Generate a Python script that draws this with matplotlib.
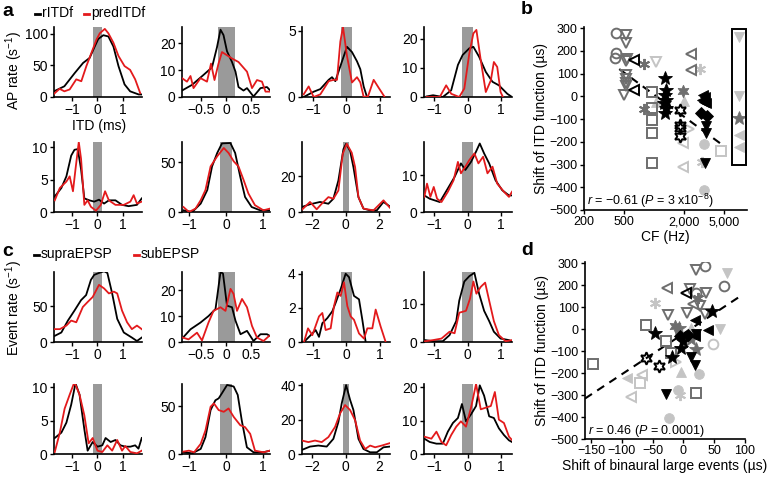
import numpy as np
import matplotlib
matplotlib.use('Agg')
import matplotlib.pyplot as plt
from matplotlib.lines import Line2D
from matplotlib.patches import Rectangle
from matplotlib.ticker import FixedLocator, NullLocator

plt.rcParams['font.family'] = ['Liberation Sans', 'DejaVu Sans']
plt.rcParams['mathtext.fontset'] = 'custom'
plt.rcParams['mathtext.rm'] = 'Liberation Sans'
plt.rcParams['mathtext.it'] = 'Liberation Sans:italic'
plt.rcParams['mathtext.bf'] = 'Liberation Sans:bold'
plt.rcParams['axes.unicode_minus'] = True

# ---------------- data: panel a (rITDf black, predITDf red) ----------------
a1_bx = [-1.72,-1.31,-0.9,-0.57,-0.44,-0.31,-0.11,0.03,0.23,0.43,0.63,0.83,1.07,1.29,1.63,1.76]
a1_by = [9,17,38,54,58,62,80,92,98,96,80,49,20,9,4,4]
a1_rx = [-1.72,-1.5,-1.31,-1.1,-0.84,-0.64,-0.44,-0.24,-0.04,0.09,0.29,0.43,0.63,0.83,1.07,1.29,1.49,1.69]
a1_ry = [5,13,9,12,28,25,49,70,91,101,108,101,86,65,49,43,28,6]

a2_bx = [-0.88,-0.68,-0.45,-0.28,-0.18,-0.11,-0.05,0.02,0.12,0.19,0.25,0.35,0.42,0.55,0.69,0.82,0.88]
a2_by = [2.4,4.5,8.2,11,18.5,25,23,17,13,9.4,3.7,2.4,3.3,0.2,3.3,3.7,2.5]
a2_rx = [-0.88,-0.78,-0.71,-0.65,-0.51,-0.38,-0.3,-0.23,-0.15,-0.08,0.02,0.12,0.25,0.42,0.52,0.62,0.72,0.79,0.88]
a2_ry = [7,5.7,7.8,3.3,7,5.7,12.4,6.3,12.4,16.7,15.5,14.3,13,9.4,3.3,6.3,5.7,2,2]

a3_bx = [-1.28,-0.98,-0.78,-0.53,-0.43,-0.33,-0.13,0.02,0.17,0.32,0.42,0.52,0.62,1.15]
a3_by = [0,0.4,0.6,1.3,1.5,1.2,2.7,3.8,3.4,2.7,2.1,0.8,0,0]
a3_rx = [-1.28,-1.13,-0.98,-0.78,-0.53,-0.38,-0.28,-0.18,-0.1,0.02,0.17,0.32,0.42,0.52,0.65,0.82,0.97,1.15]
a3_ry = [0.2,0.8,0,0.2,1.2,1.3,1.3,4.2,5.3,3.1,1.1,1.5,1.1,0,0.05,1.3,0.7,0]

a4_bx = [-1.22,-1.03,-0.74,-0.49,-0.29,-0.15,0.05,0.17,0.34,0.54,0.74,0.93,1.18,1.32]
a4_by = [0.2,0.6,0,2.3,11,14.4,16.7,17.2,13.8,8.6,5.2,4,1.1,0]
a4_rx = [-1.22,-0.83,-0.64,-0.49,-0.25,-0.1,0.05,0.17,0.26,0.39,0.54,0.69,0.78,0.88,0.98,1.05]
a4_ry = [0,0,4,1.1,0,2.9,15,21.8,23,12.6,1.7,5.7,12,10.3,1.7,0]

a5_bx = [-1.69,-1.43,-1.23,-1.04,-0.91,-0.78,-0.65,-0.52,-0.32,-0.13,0.06,0.26,0.45,0.71,0.97,1.23,1.56,1.75]
a5_by = [2.4,3.7,5.5,8.7,9.6,9.7,6.6,2.1,1.8,1.6,1.9,1.3,1.8,1.8,1.1,0.9,1.1,2.1]
a5_rx = [-1.69,-1.49,-1.23,-1.1,-0.97,-0.87,-0.74,-0.65,-0.52,-0.39,-0.26,-0.06,0.13,0.3,0.45,0.71,1.04,1.3,1.43,1.56,1.75]
a5_ry = [1.8,3.7,4.7,5.5,3.2,6.6,10.8,8.2,1.1,1.8,0.8,0.2,1.1,3.2,1.8,1.1,1.1,1.6,2.6,1.3,1.6]

a6_bx = [-1.16,-0.92,-0.69,-0.51,-0.38,-0.24,-0.11,0.12,0.25,0.39,0.52,0.7,0.93,1.2]
a6_by = [1.7,0,8.4,22,45.6,59,68.6,69,59,35,15,5,1.7,1.7]
a6_rx = [-1.16,-1.01,-0.83,-0.69,-0.56,-0.42,-0.24,-0.06,0.07,0.21,0.34,0.48,0.61,0.79,1.02,1.2]
a6_ry = [5,0,3.4,11.8,22,45.6,55.7,64,59,50.7,45.6,32,18.6,6.8,1.7,3.4]

a7_bx = [-2.62,-2.14,-1.54,-1.04,-0.74,-0.44,-0.14,0.02,0.26,0.46,0.76,1.06,1.46,1.86,2.26,2.64]
a7_by = [2.8,4.3,5.6,4.6,7.4,17.6,35,38,34,25,8.3,1.9,0.9,0.9,5.6,3.1]
a7_rx = [-2.62,-2.14,-1.74,-1.44,-1.04,-0.74,-0.44,-0.18,0.06,0.36,0.56,0.76,1.06,1.66,2.26,2.64]
a7_ry = [1.3,5.6,1.5,4.6,8.3,7.4,12,32.4,38,33,25,8.3,1.9,0.9,6.5,2.4]

a8_bx = [-1.29,-1.13,-0.83,-0.59,-0.39,-0.2,-0.07,0.1,0.25,0.36,0.49,0.64,0.83,1.03,1.23,1.32]
a8_by = [4.5,3.6,2.7,6.4,9.5,13.2,11.4,13.6,16.4,18.6,15.9,13.2,8.6,5.9,4.5,4.5]
a8_rx = [-1.29,-1.21,-1.11,-1.01,-0.91,-0.78,-0.59,-0.42,-0.29,-0.2,-0.07,0.05,0.2,0.32,0.46,0.59,0.74,0.88,1.08,1.23,1.32]
a8_ry = [4.1,7.7,4.1,6.8,3.6,2.7,5.5,8.6,13.6,10.5,12.3,14.1,15.9,13.2,15,10.5,12.3,7.7,5.5,4.1,5.5]

# ---------------- data: panel c (supraEPSP black, subEPSP red) ----------------
c1_bx = [-1.69,-1.43,-1.17,-0.91,-0.65,-0.45,-0.26,-0.13,0.06,0.26,0.39,0.58,0.78,1.04,1.36,1.56,1.75]
c1_by = [8.6,13.3,30,44,58.6,65.7,87,94,96.7,99,96.7,68,32.4,13.3,6.2,1.4,6.2]
c1_rx = [-1.69,-1.49,-1.23,-1.04,-0.84,-0.58,-0.39,-0.19,0.06,0.26,0.45,0.65,0.78,0.97,1.17,1.36,1.56,1.75]
c1_ry = [18,18,23,30,27.6,49,56,63,80,75,68,70.5,68,44,27.6,18,23,18]

c2_bx = [-0.86,-0.71,-0.51,-0.35,-0.21,-0.11,-0.06,0.02,0.12,0.19,0.29,0.42,0.55,0.69,0.82,0.88]
c2_by = [1.7,4.9,7.5,10,12.7,27,26.4,14,13.4,8.2,3,4.3,0.4,3,3,2.3]
c2_rx = [-0.86,-0.75,-0.58,-0.48,-0.35,-0.25,-0.11,-0.01,0.09,0.15,0.22,0.32,0.42,0.52,0.62,0.75,0.86]
c2_ry = [1.7,1,3.6,0.6,7.5,12,13.4,12,20.5,18.6,12,16.6,13.4,6.2,1.7,0.4,2.3]

c3_bx = [-1.27,-1.07,-0.92,-0.82,-0.72,-0.57,-0.42,-0.32,-0.17,-0.02,0.08,0.23,0.38,0.48,0.58]
c3_by = [0,0.4,0.7,0.3,1.1,1.4,1.8,2.3,3.1,4,3.8,2.7,2.5,1.3,0]
c3_rx = [-1.27,-1.15,-1.02,-0.82,-0.72,-0.62,-0.47,-0.37,-0.27,-0.17,-0.07,0.03,0.13,0.23,0.38,0.53,0.63,0.78,0.88,1.03,1.18]
c3_ry = [0,0.8,0.4,1.5,1.7,0.7,0.8,2.1,2.9,2.7,3.5,2.1,1.5,1.3,0.5,0.2,0.8,0.8,1.9,0.9,0]

c4_bx = [-1.27,-1.03,-0.74,-0.54,-0.34,-0.25,-0.1,0.05,0.2,0.34,0.49,0.64,0.78,0.98,1.23,1.32]
c4_by = [0.5,0.2,0.2,1.8,5.5,10.9,15.9,17.3,18.2,12.7,8.2,5.5,2.7,0.9,0.5,0.1]
c4_rx = [-1.27,-1.03,-0.78,-0.54,-0.39,-0.25,-0.05,0.07,0.17,0.26,0.39,0.52,0.64,0.78,0.93,1.13,1.32]
c4_ry = [0.2,0.5,0.9,2.7,2.3,7.7,8.2,11.4,15.9,12.7,14.5,15.6,10.9,5.5,1.8,0.2,0.5]

c5_bx = [-1.69,-1.43,-1.23,-1.04,-0.87,-0.71,-0.52,-0.39,-0.19,0,0.19,0.32,0.52,0.71,0.91,1.1,1.3,1.49,1.62,1.75]
c5_by = [2.4,3.2,4.7,7.4,10.6,8.9,3.7,0.5,1.8,1.1,1.3,2.4,1.8,2.1,1.3,1.1,1.1,1.3,0.8,2.4]
c5_rx = [-1.69,-1.49,-1.3,-1.1,-0.91,-0.71,-0.52,-0.35,-0.19,0,0.19,0.39,0.58,0.78,0.97,1.1,1.3,1.56,1.75]
c5_ry = [0.3,3.2,6.8,8.9,10.8,8.9,5.8,1.6,2.4,0.5,0.3,1.3,0.5,2.1,0.5,1.2,0.3,0.1,0.5]

c6_bx = [-1.16,-0.92,-0.69,-0.56,-0.42,-0.29,-0.2,-0.11,0.03,0.21,0.32,0.43,0.57,0.75,1.02,1.2]
c6_by = [1.8,0.7,5.3,17.6,45.8,56,58,63.4,72,70.4,61.6,35,7,1.8,1.8,3.5]
c6_rx = [-1.16,-1.01,-0.87,-0.69,-0.56,-0.42,-0.33,-0.2,-0.06,0.07,0.21,0.39,0.52,0.66,0.79,1.02,1.2]
c6_ry = [2.5,3.5,1.8,10.6,24.6,49.3,52.8,45.8,44,47.5,38.7,30,28,21,3.5,1.8,3.5]

c7_bx = [-2.62,-2.14,-1.64,-1.14,-0.74,-0.44,-0.24,0.02,0.26,0.46,0.76,1.06,1.46,1.86,2.26,2.64]
c7_by = [2.4,4.3,4.9,4.3,8.8,18.6,29.4,40,31.4,25.5,8.8,2.9,1,1,3.9,4.3]
c7_rx = [-2.62,-2.24,-1.84,-1.44,-1.04,-0.64,-0.34,-0.04,0.26,0.56,0.86,1.16,1.46,1.76,2.16,2.64]
c7_ry = [7.8,6.9,7.8,6.9,9.8,15.7,23.5,28.4,25.5,19.6,7.8,2.9,4.9,3.9,4.9,6.3]

c8_bx = [-1.29,-1.13,-0.93,-0.74,-0.59,-0.44,-0.29,-0.17,-0.05,0.1,0.25,0.36,0.49,0.64,0.78,0.93,1.08,1.23,1.32]
c8_by = [4.6,3.6,3.1,3.1,6.7,9.3,10.8,15,9.8,11.9,14.4,20.6,17.5,11.3,10.8,7.7,5.7,4.1,3.6]
c8_rx = [-1.29,-1.08,-0.93,-0.78,-0.64,-0.49,-0.34,-0.2,-0.05,0.1,0.25,0.39,0.54,0.69,0.81,0.93,1.08,1.23,1.32]
c8_ry = [5.2,4.6,6.7,3.6,2.6,5.7,8.2,9.8,8.2,13.9,21,13.4,13.9,14.4,18.6,10.3,9.3,5.2,4.2]

# ---------------- data: panel b (CF vs shift of ITD function) ----------------
b_cf = [420,420,410, 530,530,535,520,525,520,525,530,505, 630,630, 800,790, 1060,
        950,950,950,950,950, 1300,1320,1290,1310,1270,1330,1300, 1950,
        1800,1820,1800,1800, 2350,2350, 2900,3000, 1950,1950, 2250,
        3100,3200,3050,3150,3300, 2950,3350, 3300,3300,3200, 3150,3150, 4700,
        7050,7050, 7050, 7050,7050, 1050,2000]
b_shift = [280,190,170, 270,235,165,155,95,75,60,45,5, 162,28, 142,-55, 150,
           18,-50,-105,-160,-295, 80,30,5,-15,-30,-50,-75, 22,
           -62,-125,-140,-175, 185,115, 120,-290, -205,-310, -145,
           5,-5,-15,-25,-30, -75,-85, -130,-160,-295, -210,-410, -242,
           260,0, -95, -170,-225, -25,-20]
b_cell = [0,0,0, 1,1,1,1,1,1,1,1,1, 2,2, 3,3, 4,
          5,5,5,5,5, 6,6,6,6,6,6,6, 7,
          8,8,8,8, 9,9, 10,10, 11,11, 12,
          13,13,13,13,13, 14,14, 15,15,15, 16,16, 17,
          18,18, 19, 20,20, 21,21]
b_fit_cf = [450, 4700]
b_fit_shift = [120, -210]
b_box_cf = [6000, 8300]
b_box_shift = [-300, 295]

# ---------------- data: panel d (shift of large events vs shift of ITD) ----------------
d_event = [-147,-91,-86,-71,-67,-61,-39,-47,-61,-47,-27,-25,-28,-20,-23,-29,-9,-5,
           35,21,70,66,4,10,21,37,24,16,27,35,46,5,18,13,-14,-8,21,18,13,0,-4,20,
           48,59,40,13,18,-4,26,20,-12,-5,8,-18]
d_itd = [-158,-221,-308,-245,-210,-131,-170,-20,18,120,187,64,-53,-110,-406,-296,-278,-300,
         285,270,255,195,165,180,165,165,142,112,105,67,82,75,40,7,15,5,-23,-30,-45,-53,-86,-90,
         -68,0,-5,-128,-165,-195,-203,-293,-150,-30,-25,-125]
d_cell = [5,20,11,17,11,8,8,6,5,10,9,1,5,5,16,15,16,10,
          0,1,18,0,2,1,0,1,3,9,1,1,6,1,13,21,7,19,15,13,19,6,6,19,
          22,18,13,15,15,21,16,5,12,14,14,6]
d_fit_event = [-160, 97]
d_fit_itd = [-316, 158]

# ---------------- styling ----------------
W, H = 773, 479
fig = plt.figure(figsize=(W/100, H/100), dpi=100)
fig.patch.set_facecolor('white')

RED = '#e31a1c'
BAR = '#9a9a9a'
DG = '#6e6e6e'
LG = '#c4c4c4'
TICK_FS = 10
SC_TICK_FS = 9
LAB_FS = 10


def add_ax(l, t, w, h):
    return fig.add_axes([l / W, 1 - (t + h) / H, w / W, h / H])


def fmt(v):
    s = '%g' % v
    return s.replace('-', '\u2212')


def style_ax(ax, fs):
    for s in ['top', 'right']:
        ax.spines[s].set_visible(False)
    for s in ['left', 'bottom']:
        ax.spines[s].set_linewidth(1.2)
    ax.tick_params(direction='out', length=3, width=1.0, labelsize=fs, pad=1.5)


col_left = [54, 182, 302, 424]
col_w = 88
row_top = [27, 142, 272, 384]
row_h = 70

col1_xlim = (-1.72, 1.76)
col4_xlim = (-1.3, 1.32)
small = [
    # (row, col, xlim, xticks, ylim, yticks, bx, by, rx, ry)
    (0, 0, col1_xlim, [-1, 0, 1], (0, 111), [0, 50, 100], a1_bx, a1_by, a1_rx, a1_ry),
    (0, 1, (-0.88, 0.88), [-0.5, 0, 0.5], (0, 26), [0, 10, 20], a2_bx, a2_by, a2_rx, a2_ry),
    (0, 2, (-1.33, 1.31), [-1, 0, 1], (0, 5.3), [0, 5], a3_bx, a3_by, a3_rx, a3_ry),
    (0, 3, col4_xlim, [-1, 0, 1], (0, 24), [0, 10, 20], a4_bx, a4_by, a4_rx, a4_ry),
    (1, 0, col1_xlim, [-1, 0, 1], (0, 10.8), [0, 5, 10], a5_bx, a5_by, a5_rx, a5_ry),
    (1, 1, (-1.2, 1.2), [-1, 0, 1], (0, 70), [0, 50], a6_bx, a6_by, a6_rx, a6_ry),
    (1, 2, (-2.62, 2.65), [-2, 0, 2], (0, 39), [0, 20], a7_bx, a7_by, a7_rx, a7_ry),
    (1, 3, col4_xlim, [-1, 0, 1], (0, 19), [0, 10], a8_bx, a8_by, a8_rx, a8_ry),
    (2, 0, col1_xlim, [-1, 0, 1], (0, 98), [0, 50], c1_bx, c1_by, c1_rx, c1_ry),
    (2, 1, (-0.88, 0.88), [-0.5, 0, 0.5], (0, 27), [0, 10, 20], c2_bx, c2_by, c2_rx, c2_ry),
    (2, 2, (-1.33, 1.31), [-1, 0, 1], (0, 4.1), [0, 2, 4], c3_bx, c3_by, c3_rx, c3_ry),
    (2, 3, col4_xlim, [-1, 0, 1], (0, 18.4), [0, 10], c4_bx, c4_by, c4_rx, c4_ry),
    (3, 0, col1_xlim, [-1, 0, 1], (0, 10.5), [0, 5, 10], c5_bx, c5_by, c5_rx, c5_ry),
    (3, 1, (-1.2, 1.2), [-1, 0, 1], (0, 73), [0, 50], c6_bx, c6_by, c6_rx, c6_ry),
    (3, 2, (-2.62, 2.65), [-2, 0, 2], (0, 40.6), [0, 20, 40], c7_bx, c7_by, c7_rx, c7_ry),
    (3, 3, col4_xlim, [-1, 0, 1], (0, 21), [0, 10, 20], c8_bx, c8_by, c8_rx, c8_ry),
]

for (r, c, xl, xt, yl, yt, bx, by, rx, ry) in small:
    ax = add_ax(col_left[c], row_top[r], col_w, row_h)
    style_ax(ax, TICK_FS)
    ax.axvspan(-0.17, 0.17, color=BAR, lw=0, zorder=1)
    ax.plot(bx, by, color='black', lw=1.3, zorder=3, solid_joinstyle='round')
    ax.plot(rx, ry, color=RED, lw=1.3, zorder=4, solid_joinstyle='round')
    ax.set_xlim(*xl)
    ax.set_ylim(*yl)
    ax.set_xticks(xt)
    ax.set_xticklabels([fmt(v) for v in xt])
    ax.set_yticks(yt)
    ax.set_yticklabels([fmt(v) for v in yt])

# ---------------- scatter styles ----------------
AST = (6, 2, 0)
HEX = (6, 1, 0)
CELL_MARKER = ['o', 'v', '<', AST, 'v', 's', '*', HEX, HEX, '<', AST, '<', '>', '<', 'D', 'v', 'o', 's', 'v', '*', '<', '^', 'o']
CELL_COLOR = [DG, DG, 'k', DG, LG, DG, 'k', DG, 'k', DG, LG, LG, LG, 'k', 'k', 'k', LG, LG, LG, DG, LG, LG, LG]
CELL_FILLED = [False, False, False, True, False, False, True, True, False, False, True, False, False,
               True, True, True, True, False, True, True, True, True, False]


def msize(m):
    if m == '*':
        return 10.5
    if m == HEX:
        return 9
    if m == 's':
        return 6.5
    if m == 'D':
        return 6
    if m == 'o':
        return 7
    if m == AST:
        return 8
    return 7.5


def zord(col):
    return {LG: 3, DG: 4, 'k': 5}[col]


def draw_scatter(ax, xs, ys, cells):
    xs = np.asarray(xs, float)
    ys = np.asarray(ys, float)
    cells = np.asarray(cells)
    for ci in range(len(CELL_MARKER)):
        sel = cells == ci
        if not sel.any():
            continue
        m = CELL_MARKER[ci]
        col = CELL_COLOR[ci]
        filled = CELL_FILLED[ci]
        ax.plot(xs[sel], ys[sel], ls='none', marker=m, ms=msize(m),
                mfc=col if filled else 'none', mec=col,
                mew=1.4 if (not filled or m == AST) else 0.6, zorder=zord(col))


# ---------------- panel b ----------------
axb = add_ax(584, 27, 163, 183)
style_ax(axb, SC_TICK_FS)
axb.set_xscale('log')
axb.set_xlim(200, 8500)
axb.set_ylim(-500, 305)
axb.xaxis.set_major_locator(FixedLocator([200, 500, 2000, 5000]))
axb.xaxis.set_minor_locator(NullLocator())
axb.set_xticklabels(['200', '500', '2,000', '5,000'])
axb.set_yticks(range(-500, 301, 100))
axb.set_yticklabels([fmt(v) for v in range(-500, 301, 100)])
axb.plot(b_fit_cf, b_fit_shift, color='black', lw=1.5, ls=(0, (4, 3)), zorder=2)
draw_scatter(axb, b_cf, b_shift, b_cell)
axb.add_patch(Rectangle((b_box_cf[0], b_box_shift[0]), b_box_cf[1] - b_box_cf[0],
                        b_box_shift[1] - b_box_shift[0], fill=False, lw=1.4, ec='black', zorder=6))
axb.text(215, -462, r'$r$ = $-$0.61 ($P$ = 3 x10$^{-8}$)', fontsize=9, va='center', ha='left')
axb.set_xlabel('CF (Hz)', fontsize=LAB_FS, labelpad=1)
axb.set_ylabel('Shift of ITD function (\u00b5s)', fontsize=LAB_FS, labelpad=1)

# ---------------- panel d ----------------
axd = add_ax(585, 262, 160, 177)
style_ax(axd, SC_TICK_FS)
axd.set_xlim(-160, 100)
axd.set_ylim(-500, 305)
axd.set_xticks(range(-150, 101, 50))
axd.set_xticklabels([fmt(v) for v in range(-150, 101, 50)])
axd.set_yticks(range(-500, 301, 100))
axd.set_yticklabels([fmt(v) for v in range(-500, 301, 100)])
axd.plot(d_fit_event, d_fit_itd, color='black', lw=1.5, ls=(0, (4, 3)), zorder=2)
draw_scatter(axd, d_event, d_itd, d_cell)
axd.text(-155, -462, r'$r$ = 0.46 ($P$ = 0.0001)', fontsize=9, va='center', ha='left')
axd.set_xlabel('Shift of binaural large events (\u00b5s)', fontsize=LAB_FS, labelpad=1)
axd.set_ylabel('Shift of ITD function (\u00b5s)', fontsize=LAB_FS, labelpad=1)

# ---------------- figure-level labels ----------------
def ftext(x, y, s, **kw):
    fig.text(x / W, 1 - y / H, s, **kw)


def fdash(x0, x1, y, color):
    fig.add_artist(Line2D([x0 / W, x1 / W], [1 - y / H, 1 - y / H], color=color, lw=2,
                          transform=fig.transFigure))

ftext(2, 12, 'a', fontsize=14, fontweight='bold', va='center', ha='left')
ftext(521, 10, 'b', fontsize=14, fontweight='bold', va='center', ha='left')
ftext(2, 252, 'c', fontsize=14, fontweight='bold', va='center', ha='left')
ftext(521, 250, 'd', fontsize=14, fontweight='bold', va='center', ha='left')

fdash(35, 40, 14, 'black')
ftext(42, 13, 'rITDf', fontsize=LAB_FS, va='center', ha='left')
fdash(84, 89, 14, RED)
ftext(91, 13, 'predITDf', fontsize=LAB_FS, va='center', ha='left')

fdash(34, 39, 255, 'black')
ftext(41, 254, 'supraEPSP', fontsize=LAB_FS, va='center', ha='left')
fdash(134, 139, 255, RED)
ftext(141, 254, 'subEPSP', fontsize=LAB_FS, va='center', ha='left')

ftext(14, 70, 'AP rate (s$^{-1}$)', fontsize=LAB_FS, rotation=90, va='center', ha='center')
ftext(99, 126, 'ITD (ms)', fontsize=LAB_FS, va='center', ha='center')
ftext(14, 308, 'Event rate (s$^{-1}$)', fontsize=LAB_FS, rotation=90, va='center', ha='center')

fig.savefig('out.png', dpi=100, facecolor='white')
